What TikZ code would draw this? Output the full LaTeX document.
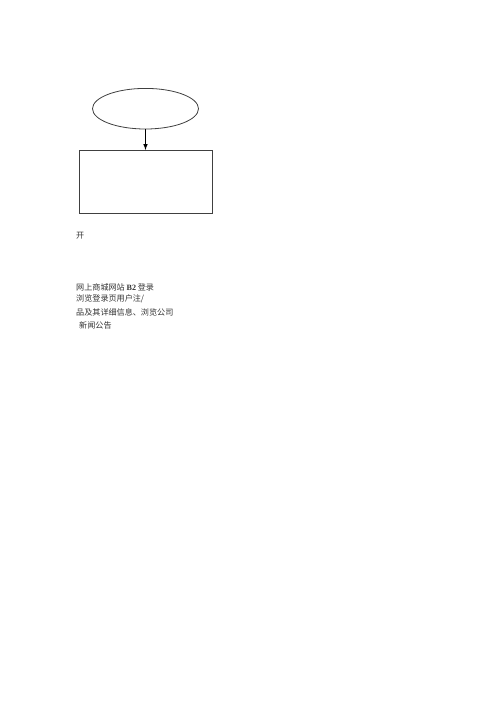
\documentclass[tikz,border=0pt]{standalone}
\usepackage{fontspec}
\usetikzlibrary{shapes.geometric}
\setmainfont{Liberation Serif}
\newfontfamily\cjk{Noto Sans CJK SC}
\begin{document}
\begin{tikzpicture}[x=1pt,y=-1pt,
  shapeline/.style={draw=black!75, line width=0.8pt},
  txt/.style={anchor=west, inner sep=0pt, font=\cjk\fontsize{8.1}{9}\selectfont, text=black!80}]
\useasboundingbox (0,0) rectangle (496,702);
\fill[white] (0,0) rectangle (496,702);
\node[shapeline, ellipse, minimum width=106pt, minimum height=40.6pt, inner sep=0pt] (start) at (145.5,108.7) {};
\node[shapeline, rectangle, minimum width=132.4pt, minimum height=63.3pt, inner sep=0pt, anchor=north west] (box) at (79.3,150) {};
\draw[black, line width=1pt, -latex] (start.south) -- (start.south |- box.north);
\node[txt] (t0) at (76,235.7) {开};
\node[txt] (t1) at (76,287.3) {网上商城网站 {\rmfamily\bfseries B2} 登录};
\node[txt] (t2) at (76,298.5) {浏览登录页用户注/};
\node[txt] (t3) at (76,312) {品及其详细信息、浏览公司};
\node[txt] (t4) at (79,325) {新闻公告};
\end{tikzpicture}
\end{document}
